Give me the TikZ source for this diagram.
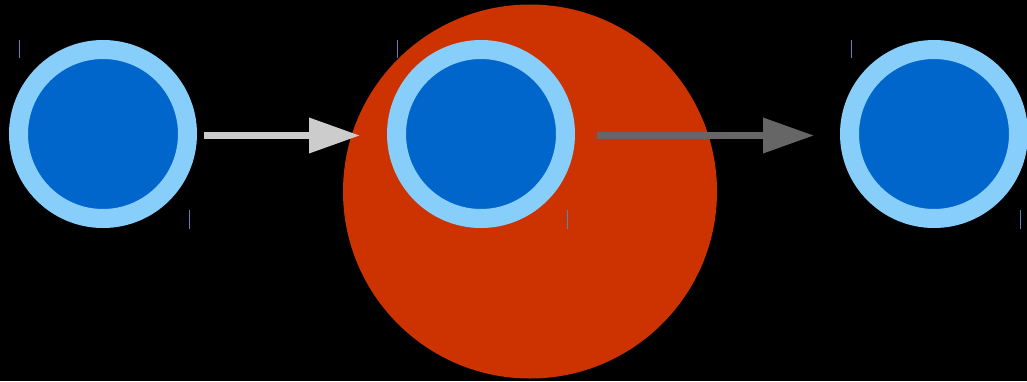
\documentclass[tikz,border=0pt]{standalone}
\usetikzlibrary{arrows.meta}
\definecolor{ring}{HTML}{87CEFA}
\definecolor{core}{HTML}{0066CC}
\definecolor{bigred}{HTML}{CC3300}
\definecolor{tick}{HTML}{4F86BE}
\definecolor{arrowA}{HTML}{CCCCCC}
\definecolor{arrowB}{HTML}{666666}
\begin{document}
\begin{tikzpicture}[x=1pt,y=-1pt,
  dot/.style={circle,draw=ring,fill=core,line width=19pt,minimum size=169pt,inner sep=0pt},
  blob/.style={circle,fill=bigred,minimum size=374pt,inner sep=0pt},
  tickmark/.style={draw=tick,line width=1pt},
  conn/.style={line width=7pt,-{Triangle[length=51pt,width=34pt]}}]
\fill[black] (0,0) rectangle (1027,381);
\useasboundingbox (0,0) rectangle (1027,381);
\node[blob] (red) at (530,191.5) {};
\node[dot] (c1) at (103,134) {};
\node[dot] (c2) at (481,134) {};
\node[dot] (c3) at (934,134) {};
\draw[tickmark] (19,40) -- (19,58);
\draw[tickmark] (189,210) -- (189,229);
\draw[tickmark] (397,40) -- (397,58);
\draw[tickmark] (567,210) -- (567,229);
\draw[tickmark] (851,40) -- (851,58);
\draw[tickmark] (1020,210) -- (1020,229);
\draw[conn,arrowA,shorten <=7pt,shorten >=27pt] ([yshift=-1.5pt]c1.east) -- ([yshift=-1.5pt]c2.west);
\draw[conn,arrowB,shorten <=22pt,shorten >=26pt] ([yshift=-1.5pt]c2.east) -- ([yshift=-1.5pt]c3.west);
\end{tikzpicture}
\end{document}
